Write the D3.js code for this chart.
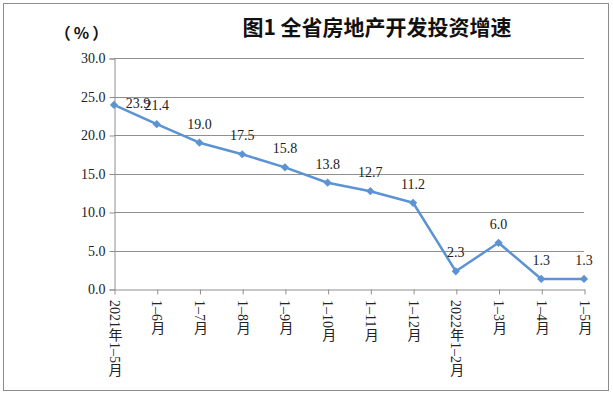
<!DOCTYPE html>
<html><head><meta charset="utf-8">
<script src="https://cdn.jsdelivr.net/npm/d3@7"></script>
<style>
html,body{margin:0;padding:0;background:#fff;}
svg{display:block;}
</style></head>
<body>
<svg id="c" width="613" height="395"></svg>
<script>
const categories = ["2021年1–5月","1–6月","1–7月","1–8月","1–9月","1–10月","1–11月","1–12月","2022年1–2月","1–3月","1–4月","1–5月"];
const values = [23.9,21.4,19.0,17.5,15.8,13.8,12.7,11.2,2.3,6.0,1.3,1.3];
const yTicks = [0,5,10,15,20,25,30];
const title = "图1 全省房地产开发投资增速";
const unitLabel = "（%）";

(function(){
const svg = d3.select("#c");
const mL = 114, mR = 584, mT = 58, mB = 289;
const serif = "'Liberation Serif','Noto Sans CJK SC',serif";

svg.append("rect").attr("x",3.5).attr("y",3.5).attr("width",605).attr("height",387)
  .attr("fill","#fff").attr("stroke","#8c8c8c").attr("stroke-width",1);

const x = d3.scalePoint().domain(categories).range([mL, mR]);
const y = d3.scaleLinear().domain([0,30]).range([mB, mT]);

// gridlines
svg.append("g").selectAll("line").data(yTicks.filter(d=>d>0)).join("line")
  .attr("x1",mL).attr("x2",mR)
  .attr("y1",d=>Math.round(y(d))+0.5).attr("y2",d=>Math.round(y(d))+0.5)
  .attr("stroke","#8f8f8f").attr("stroke-width",1);

// y axis
const ya = svg.append("g").attr("transform",`translate(${mL+0.5},0.5)`)
  .call(d3.axisLeft(y).tickValues(yTicks).tickFormat(d3.format(".1f")).tickSize(5).tickPadding(4));
ya.select(".domain").attr("stroke","#8f8f8f");
ya.selectAll(".tick line").attr("stroke","#8f8f8f");
ya.selectAll(".tick text").attr("font-family",serif).attr("font-size",14).attr("fill","#222");

// x axis
const xa = svg.append("g").attr("transform",`translate(0.5,${mB+0.5})`)
  .call(d3.axisBottom(x).tickSize(5).tickSizeOuter(0).tickFormat(""));
xa.select(".domain").attr("stroke","#8f8f8f");
xa.selectAll(".tick line").attr("stroke","#8f8f8f");

svg.append("g").selectAll("text").data(categories).join("text")
  .attr("x",d=>x(d)).attr("y",mB+11)
  .attr("style","writing-mode: vertical-rl; text-orientation: mixed;")
  .attr("text-anchor","start")
  .attr("font-family",serif).attr("font-size",14).attr("fill","#222")
  .text(d=>d);

// line
const line = d3.line().x((d,i)=>x(categories[i])).y(d=>y(d));
svg.append("path").datum(values).attr("d",line).attr("fill","none")
  .attr("stroke","#5b93d3").attr("stroke-width",2.5).attr("stroke-linejoin","round");

// diamond markers (square rotated 45deg)
const diamond = d3.symbol().type(d3.symbolSquare).size(34);
svg.append("g").selectAll("path").data(values).join("path")
  .attr("d",diamond)
  .attr("transform",(d,i)=>`translate(${x(categories[i])},${y(d)}) rotate(45)`)
  .attr("fill","#5b93d3");

// data labels
svg.append("g").selectAll("text").data(values).join("text")
  .attr("x",(d,i)=>x(categories[i]) + (i===0?24:0))
  .attr("y",(d,i)=>y(d) + (i===0?3:-14))
  .attr("text-anchor","middle")
  .attr("font-family",serif).attr("font-size",14).attr("fill","#222")
  .text(d=>d.toFixed(1));

// title
svg.append("text").attr("x",377).attr("y",35).attr("text-anchor","middle")
  .attr("font-family","'Noto Sans CJK SC',sans-serif").attr("font-weight","bold")
  .attr("font-size",21).attr("fill","#111").text(title);

svg.append("text").attr("x",83).attr("y",39).attr("text-anchor","middle")
  .attr("font-family","'Noto Sans CJK SC',sans-serif").attr("font-weight","bold")
  .attr("letter-spacing",3)
  .attr("font-size",16).attr("fill","#111").text(unitLabel);
})();
</script>
</body></html>
